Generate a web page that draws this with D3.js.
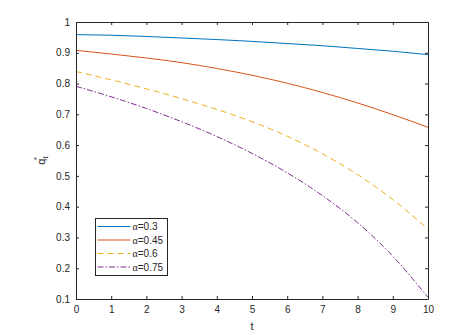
<!DOCTYPE html>
<html>
<head>
<meta charset="utf-8">
<script src="https://cdn.jsdelivr.net/npm/d3@7"></script>
<style>
  body { margin: 0; background: #fff; }
  svg text { font-family: "Liberation Sans", Arial, sans-serif; fill: #262626; }
</style>
</head>
<body>
<svg id="chart" width="453" height="335"></svg>
<script>
// data
const tValues = [0, 1, 2, 3, 4, 5, 6, 7, 8, 9, 10]
const q03  = [0.959, 0.957, 0.953, 0.948, 0.943, 0.937, 0.930, 0.923, 0.914, 0.905, 0.894]
const q045 = [0.908, 0.896, 0.883, 0.868, 0.849, 0.827, 0.801, 0.771, 0.737, 0.699, 0.658]
const q06  = [0.839, 0.812, 0.783, 0.751, 0.716, 0.676, 0.629, 0.572, 0.504, 0.423, 0.327]
const q075 = [0.791, 0.757, 0.719, 0.676, 0.628, 0.573, 0.510, 0.436, 0.348, 0.239, 0.105]
const seriesNames = ['0.3', '0.45', '0.6', '0.75']
const xTicks = [0, 1, 2, 3, 4, 5, 6, 7, 8, 9, 10]
const yTicks = [0.1, 0.2, 0.3, 0.4, 0.5, 0.6, 0.7, 0.8, 0.9, 1]

const series = [
    { name: seriesNames[0], values: q03,  color: '#0072BD', dash: null },
    { name: seriesNames[1], values: q045, color: '#D95319', dash: null },
    { name: seriesNames[2], values: q06,  color: '#EDB120', dash: '6,4' },
    { name: seriesNames[3], values: q075, color: '#7E2F8E', dash: '6,2,1.5,2' }
]

const svg = d3.select('#chart')
const plotLeft = 76, plotRight = 428, plotTop = 22, plotBottom = 299

const x = d3.scaleLinear().domain([0, 10]).range([plotLeft, plotRight])
const y = d3.scaleLinear().domain([0.1, 1]).range([plotBottom, plotTop])

const axisColor = '#262626'

// series lines
const line = d3.line()
    .x((d, i) => x(tValues[i]))
    .y(d => y(d))
    .curve(d3.curveMonotoneX)

series.forEach(s => {
    svg.append('path')
        .datum(s.values)
        .attr('d', line)
        .attr('fill', 'none')
        .attr('stroke', s.color)
        .attr('stroke-width', 1)
        .attr('stroke-dasharray', s.dash)
})

// axes, ticks pointing inwards, box all around
const bottomAxis = d3.axisBottom(x).tickValues(xTicks).tickSizeInner(-3).tickSizeOuter(0).tickPadding(7).tickFormat(d3.format('d'))
const topAxis = d3.axisTop(x).tickValues(xTicks).tickSizeInner(-3).tickSizeOuter(0).tickFormat('')
const leftAxis = d3.axisLeft(y).tickValues(yTicks).tickSizeInner(-3).tickSizeOuter(0).tickPadding(6).tickFormat(d => d === 1 ? '1' : d3.format('.1f')(d))
const rightAxis = d3.axisRight(y).tickValues(yTicks).tickSizeInner(-3).tickSizeOuter(0).tickFormat('')

function styleAxis(g) {
    g.selectAll('path').attr('stroke', axisColor)
    g.selectAll('line').attr('stroke', axisColor)
    g.selectAll('text').attr('fill', axisColor).attr('font-size', 10)
        .attr('font-family', '"Liberation Sans", Arial, sans-serif')
}

svg.append('g').attr('transform', `translate(0,${plotBottom})`).call(bottomAxis).call(styleAxis)
svg.append('g').attr('transform', `translate(0,${plotTop})`).call(topAxis).call(styleAxis)
svg.append('g').attr('transform', `translate(${plotLeft},0)`).call(leftAxis).call(styleAxis)
svg.append('g').attr('transform', `translate(${plotRight},0)`).call(rightAxis).call(styleAxis)

// axis labels
svg.append('text')
    .attr('x', x(5)).attr('y', 330)
    .attr('text-anchor', 'middle')
    .attr('font-size', 11)
    .text('t')

const yl = svg.append('text')
    .attr('transform', `translate(45,${y(0.55)}) rotate(-90)`)
    .attr('text-anchor', 'middle')
    .attr('font-size', 11)
yl.append('tspan').text('q')
yl.append('tspan').attr('font-size', 8).attr('dy', 3).text('t')
yl.append('tspan').attr('font-size', 8).attr('dx', -4).attr('dy', -9).text('*')

// legend
const lg = svg.append('g').attr('transform', 'translate(95.5,218.5)')
lg.append('rect')
    .attr('width', 72).attr('height', 57)
    .attr('fill', '#fff')
    .attr('stroke', axisColor)
    .attr('stroke-width', 1)

series.forEach((s, i) => {
    const yy = 8 + i * 13.5
    lg.append('line')
        .attr('x1', 2).attr('x2', 35)
        .attr('y1', yy).attr('y2', yy)
        .attr('stroke', s.color)
        .attr('stroke-width', 1)
        .attr('stroke-dasharray', s.dash)
    const t = lg.append('text')
        .attr('x', 37).attr('y', yy + 3.5)
        .attr('font-size', 10)
    t.append('tspan').attr('font-family', '"Liberation Serif", "Times New Roman", serif').text('α')
    t.append('tspan').text('=' + s.name)
})
</script>
</body>
</html>
